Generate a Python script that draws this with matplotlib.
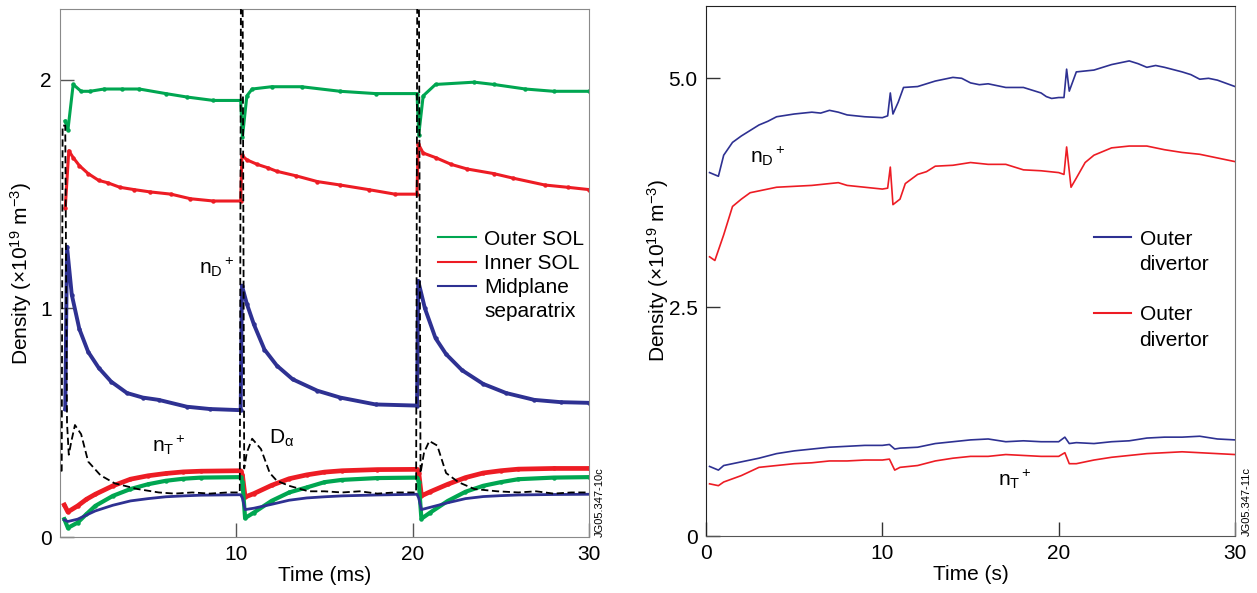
import numpy as np
import matplotlib
matplotlib.use("Agg")
import matplotlib.pyplot as plt
from matplotlib.lines import Line2D

plt.rcParams['font.family'] = ['Liberation Sans', 'DejaVu Sans']
plt.rcParams['mathtext.fontset'] = 'custom'
plt.rcParams['mathtext.rm'] = 'Liberation Sans'
plt.rcParams['mathtext.it'] = 'Liberation Sans:italic'

GREEN = '#00a651'
RED = '#ed1c24'
BLUE = '#2e3192'

# ---- left panel: ELM cycles (time in ms) ----
t_outer = [0.3, 0.45, 0.75, 1.2, 1.7, 2.5, 3.5, 4.5, 6.0, 7.2, 8.7, 10.25,
           10.35, 10.6, 10.9, 12.0, 13.7, 15.9, 17.9, 20.25,
           20.35, 20.6, 21.3, 23.5, 24.6, 26.4, 28.0, 30.0]
outer_sol = [1.82, 1.78, 1.98, 1.95, 1.95, 1.96, 1.96, 1.96, 1.94, 1.925, 1.91, 1.91,
             1.75, 1.93, 1.96, 1.97, 1.97, 1.95, 1.94, 1.94,
             1.76, 1.93, 1.98, 1.99, 1.98, 1.96, 1.95, 1.95]

t_inner = [0.3, 0.5, 0.75, 1.1, 1.6, 2.2, 2.7, 3.4, 4.2, 5.1, 6.3, 7.4, 8.7, 10.25,
           10.32, 10.6, 11.2, 11.8, 12.3, 13.4, 14.6, 15.9, 17.5, 19.0, 20.25,
           20.32, 20.6, 21.3, 22.2, 23.1, 24.6, 25.7, 27.5, 28.8, 30.0]
inner_sol = [1.44, 1.69, 1.66, 1.625, 1.59, 1.56, 1.55, 1.53, 1.52, 1.51, 1.50, 1.48, 1.47, 1.47,
             1.67, 1.65, 1.63, 1.615, 1.60, 1.58, 1.555, 1.54, 1.52, 1.50, 1.50,
             1.72, 1.68, 1.66, 1.63, 1.61, 1.59, 1.57, 1.54, 1.53, 1.52]

t_mid = [0.3, 0.4, 0.67, 1.1, 1.6, 2.2, 2.9, 3.8, 4.7, 5.6, 7.2, 8.5, 10.25,
         10.32, 10.6, 11.0, 11.6, 12.3, 13.2, 14.6, 15.9, 17.9, 20.25,
         20.32, 20.7, 21.3, 21.9, 22.8, 24.0, 25.3, 26.9, 28.4, 30.0]
mid_sep = [0.56, 1.27, 1.06, 0.91, 0.81, 0.74, 0.68, 0.63, 0.61, 0.60, 0.57, 0.56, 0.555,
           1.10, 1.02, 0.93, 0.82, 0.75, 0.69, 0.64, 0.61, 0.58, 0.575,
           1.12, 1.00, 0.87, 0.80, 0.73, 0.67, 0.63, 0.60, 0.59, 0.587]

# tritium densities (n_T+)
t_low = [0.25, 0.45, 1.0, 1.5, 2.0, 3.0, 4.0, 5.0, 6.0, 7.0, 8.0, 10.25,
         10.35, 10.5, 11.0, 12.0, 13.0, 14.0, 15.0, 16.0, 18.0, 20.25,
         20.35, 20.5, 21.0, 22.0, 23.0, 24.0, 25.0, 26.0, 28.0, 30.0]
inner_low = [0.14, 0.11, 0.136, 0.165, 0.187, 0.224, 0.253, 0.268, 0.278, 0.285, 0.288, 0.29,
             0.27, 0.175, 0.19, 0.226, 0.255, 0.272, 0.284, 0.29, 0.295, 0.296,
             0.28, 0.18, 0.198, 0.231, 0.26, 0.28, 0.29, 0.297, 0.30, 0.30]
outer_low = [0.078, 0.04, 0.063, 0.10, 0.136, 0.18, 0.21, 0.231, 0.246, 0.255, 0.26, 0.262,
             0.24, 0.083, 0.107, 0.158, 0.195, 0.217, 0.24, 0.25, 0.258, 0.26,
             0.24, 0.08, 0.107, 0.158, 0.198, 0.224, 0.24, 0.253, 0.26, 0.262]
mid_low = [0.075, 0.068, 0.078, 0.096, 0.114, 0.139, 0.158, 0.168, 0.176, 0.18, 0.183, 0.185,
           0.17, 0.12, 0.126, 0.143, 0.161, 0.171, 0.176, 0.18, 0.184, 0.187,
           0.17, 0.12, 0.13, 0.15, 0.168, 0.177, 0.181, 0.184, 0.186, 0.187]

t_dalpha = [0.05, 0.1, 0.15, 0.3, 0.4, 0.5, 0.65, 0.85, 1.2, 1.6, 2.3, 3.1, 4.4, 5.6, 6.5, 7.5, 8.5, 9.5, 10.2,
            10.27, 10.35, 10.45, 10.6, 10.9, 11.4, 11.9, 12.3, 13.0, 14.1, 15, 16, 17, 18, 19, 20.2,
            20.27, 20.35, 20.45, 20.65, 20.95, 21.4, 21.9, 22.6, 23.5, 24.8, 26, 27, 28, 29, 30]
d_alpha = [0.29, 0.29, 1.8, 1.8, 0.5, 0.36, 0.42, 0.49, 0.45, 0.33, 0.27, 0.235, 0.21, 0.195, 0.19, 0.195, 0.19, 0.195, 0.195,
           2.6, 2.6, 0.30, 0.37, 0.43, 0.385, 0.28, 0.246, 0.224, 0.20, 0.2, 0.195, 0.2, 0.19, 0.195, 0.195,
           2.6, 2.6, 0.28, 0.37, 0.42, 0.40, 0.28, 0.24, 0.21, 0.2, 0.195, 0.2, 0.19, 0.195, 0.195]

# ---- right panel: outer divertor (time in s) ----
t_div = [0.2, 0.7, 1.0, 1.5, 2.0, 3.0, 3.5, 4.0, 5.0, 5.5, 6.0, 6.5, 7.0, 7.5, 8.0, 9.0, 10.0, 10.3, 10.45,
         10.6, 10.9, 11.2, 12.0, 12.5, 13.0, 13.5, 14.0, 14.5, 15.0, 15.5, 16.0, 17.0, 18.0, 19.0, 19.3,
         19.6, 20.0, 20.3, 20.45, 20.6, 21.0, 22.0, 23.0, 24.0, 24.5, 25.0, 25.5, 26.0, 27.0, 27.5,
         28.0, 28.5, 29.0, 30.0]
nd_blue = [3.97, 3.93, 4.16, 4.30, 4.37, 4.49, 4.53, 4.58, 4.61, 4.62, 4.63, 4.62, 4.65, 4.63, 4.60, 4.58, 4.57, 4.59, 4.84,
           4.61, 4.74, 4.90, 4.91, 4.94, 4.97, 4.99, 5.01, 5.00, 4.95, 4.93, 4.94, 4.90, 4.90, 4.84, 4.80,
           4.78, 4.79, 4.79, 5.10, 4.86, 5.07, 5.09, 5.15, 5.19, 5.16, 5.12, 5.14, 5.12, 5.07, 5.04,
           4.99, 5.00, 4.98, 4.91]

t_div_red = [0.2, 0.5, 1.0, 1.5, 2.0, 2.5, 3.0, 4.0, 5.0, 6.0, 7.0, 7.5, 8.0, 9.0, 10.0, 10.3, 10.45,
             10.6, 11.0, 11.3, 12.0, 12.5, 13.0, 14.0, 15.0, 16.0, 17.0, 18.0, 19.0, 20.0, 20.3, 20.45,
             20.7, 21.0, 21.5, 22.0, 23.0, 24.0, 25.0, 26.0, 27.0, 28.0, 29.0, 30.0]
nd_red = [3.05, 3.01, 3.29, 3.60, 3.68, 3.75, 3.77, 3.81, 3.82, 3.83, 3.85, 3.86, 3.83, 3.81, 3.79, 3.80, 4.03,
          3.62, 3.68, 3.85, 3.95, 3.98, 4.04, 4.05, 4.08, 4.06, 4.06, 4.00, 3.99, 3.97, 3.95, 4.25,
          3.81, 3.91, 4.08, 4.16, 4.24, 4.26, 4.26, 4.22, 4.19, 4.17, 4.13, 4.09]

t_nt = [0.2, 0.7, 1.0, 2.0, 3.0, 4.0, 5.0, 6.0, 7.0, 8.0, 9.0, 10.0, 10.4, 10.7, 11.0, 12.0, 13.0,
        14.0, 15.0, 16.0, 17.0, 18.0, 19.0, 20.0, 20.35, 20.6, 21.0, 22.0, 23.0, 24.0, 25.0,
        26.0, 27.0, 28.0, 29.0, 30.0]
nt_blue = [0.76, 0.72, 0.77, 0.81, 0.85, 0.90, 0.93, 0.95, 0.97, 0.98, 0.99, 0.99, 1.00, 0.95, 0.96, 0.97, 1.01,
           1.03, 1.05, 1.06, 1.03, 1.04, 1.03, 1.03, 1.08, 1.01, 1.02, 1.01, 1.03, 1.04, 1.07,
           1.08, 1.08, 1.09, 1.06, 1.05]
nt_red = [0.57, 0.55, 0.59, 0.66, 0.75, 0.77, 0.79, 0.80, 0.82, 0.82, 0.83, 0.83, 0.84, 0.72, 0.75, 0.77, 0.82,
          0.85, 0.87, 0.87, 0.89, 0.88, 0.87, 0.87, 0.91, 0.79, 0.79, 0.83, 0.86, 0.88, 0.90,
          0.91, 0.92, 0.91, 0.90, 0.89]

fig = plt.figure(figsize=(12.57, 5.93), dpi=100)
ax1 = fig.add_axes([0.0477, 0.0944, 0.4208, 0.8904])
ax2 = fig.add_axes([0.5617, 0.0961, 0.4208, 0.8938])

FS = 15
ND = r'$\mathregular{n_D{}^+}$'
NT = r'$\mathregular{n_T{}^+}$'

# left panel
dot = dict(marker='o', markersize=3.2, markeredgewidth=0)
ax1.plot(t_outer, outer_sol, color=GREEN, lw=2.2, **dot)
ax1.plot(t_inner, inner_sol, color=RED, lw=2.2, **dot)
ax1.plot(t_mid, mid_sep, color=BLUE, lw=2.8, **dot)
ax1.plot(t_low, inner_low, color=RED, lw=3.4, **dot)
ax1.plot(t_low, outer_low, color=GREEN, lw=3.0, **dot)
ax1.plot(t_low, mid_low, color=BLUE, lw=2.0)
ax1.plot(t_dalpha, d_alpha, color='black', lw=1.3, ls=(0, (4, 2)), zorder=5)

ax1.set_xlim(0, 30)
ax1.set_ylim(0, 2.31)
ax1.set_xticks([10, 20, 30])
ax1.set_yticks([0, 1, 2])
ax1.set_xlabel('Time (ms)', fontsize=FS, labelpad=1)
ax1.set_ylabel(r'Density ($\times$10$^{19}$ m$^{-3}$)', fontsize=FS, labelpad=4)
for s in ax1.spines.values():
    s.set_color('#8a8a8a')
ax1.tick_params(direction='in', length=10, width=1, color='#555555', labelsize=FS, pad=6)

ax1.text(9.9, 1.18, ND, fontsize=FS, ha='right', va='center')
ax1.text(6.2, 0.40, NT, fontsize=FS, ha='center', va='center')
ax1.text(12.6, 0.43, r'$\mathregular{D_{α}}$', fontsize=FS, ha='center', va='center')
ax1.text(1.012, 0.0, 'JG05.347-10c', transform=ax1.transAxes, rotation=90,
         fontsize=8, ha='left', va='bottom')

h1 = [Line2D([], [], color=GREEN, lw=1.5), Line2D([], [], color=RED, lw=1.5),
      Line2D([], [], color=BLUE, lw=1.5), Line2D([], [], color='none')]
ax1.legend(h1, ['Outer SOL', 'Inner SOL', 'Midplane', 'separatrix'], loc='upper left',
           bbox_to_anchor=(0.715, 0.582), frameon=False, fontsize=FS, borderpad=0,
           borderaxespad=0, handlelength=1.8, handletextpad=0.4, labelspacing=0.25)

# right panel
ax2.plot(t_div, nd_blue, color=BLUE, lw=1.2)
ax2.plot(t_div_red, nd_red, color=RED, lw=1.2)
ax2.plot(t_nt, nt_blue, color=BLUE, lw=1.2)
ax2.plot(t_nt, nt_red, color=RED, lw=1.2)

ax2.set_xlim(0, 30)
ax2.set_ylim(0, 5.79)
ax2.set_xticks([0, 10, 20, 30])
ax2.set_yticks([0, 2.5, 5.0])
ax2.set_yticklabels(['0', '2.5', '5.0'])
ax2.set_xlabel('Time (s)', fontsize=FS, labelpad=1)
ax2.set_ylabel(r'Density ($\times$10$^{19}$ m$^{-3}$)', fontsize=FS, labelpad=-2)
ax2.spines['left'].set_color('#222222')
ax2.spines['top'].set_color('#222222')
ax2.spines['right'].set_color('#777777')
ax2.spines['bottom'].set_color('#555555')
ax2.tick_params(direction='in', length=10, width=1, color='#333333', labelsize=FS, pad=6)

ax2.text(3.5, 4.15, ND, fontsize=FS, ha='center', va='center')
ax2.text(17.5, 0.62, NT, fontsize=FS, ha='center', va='center')
ax2.text(1.012, 0.0, 'JG05.347-11c', transform=ax2.transAxes, rotation=90,
         fontsize=8, ha='left', va='bottom')

h2 = [Line2D([], [], color=BLUE, lw=1.5), Line2D([], [], color='none'),
      Line2D([], [], color='none'), Line2D([], [], color=RED, lw=1.5),
      Line2D([], [], color='none')]
ax2.legend(h2, ['Outer', 'divertor', ' ', 'Outer', 'divertor'], loc='upper left',
           bbox_to_anchor=(0.733, 0.578), frameon=False, fontsize=FS, borderpad=0,
           borderaxespad=0, handlelength=1.8, handletextpad=0.4, labelspacing=0.3)

fig.savefig('out.png', dpi=100)
